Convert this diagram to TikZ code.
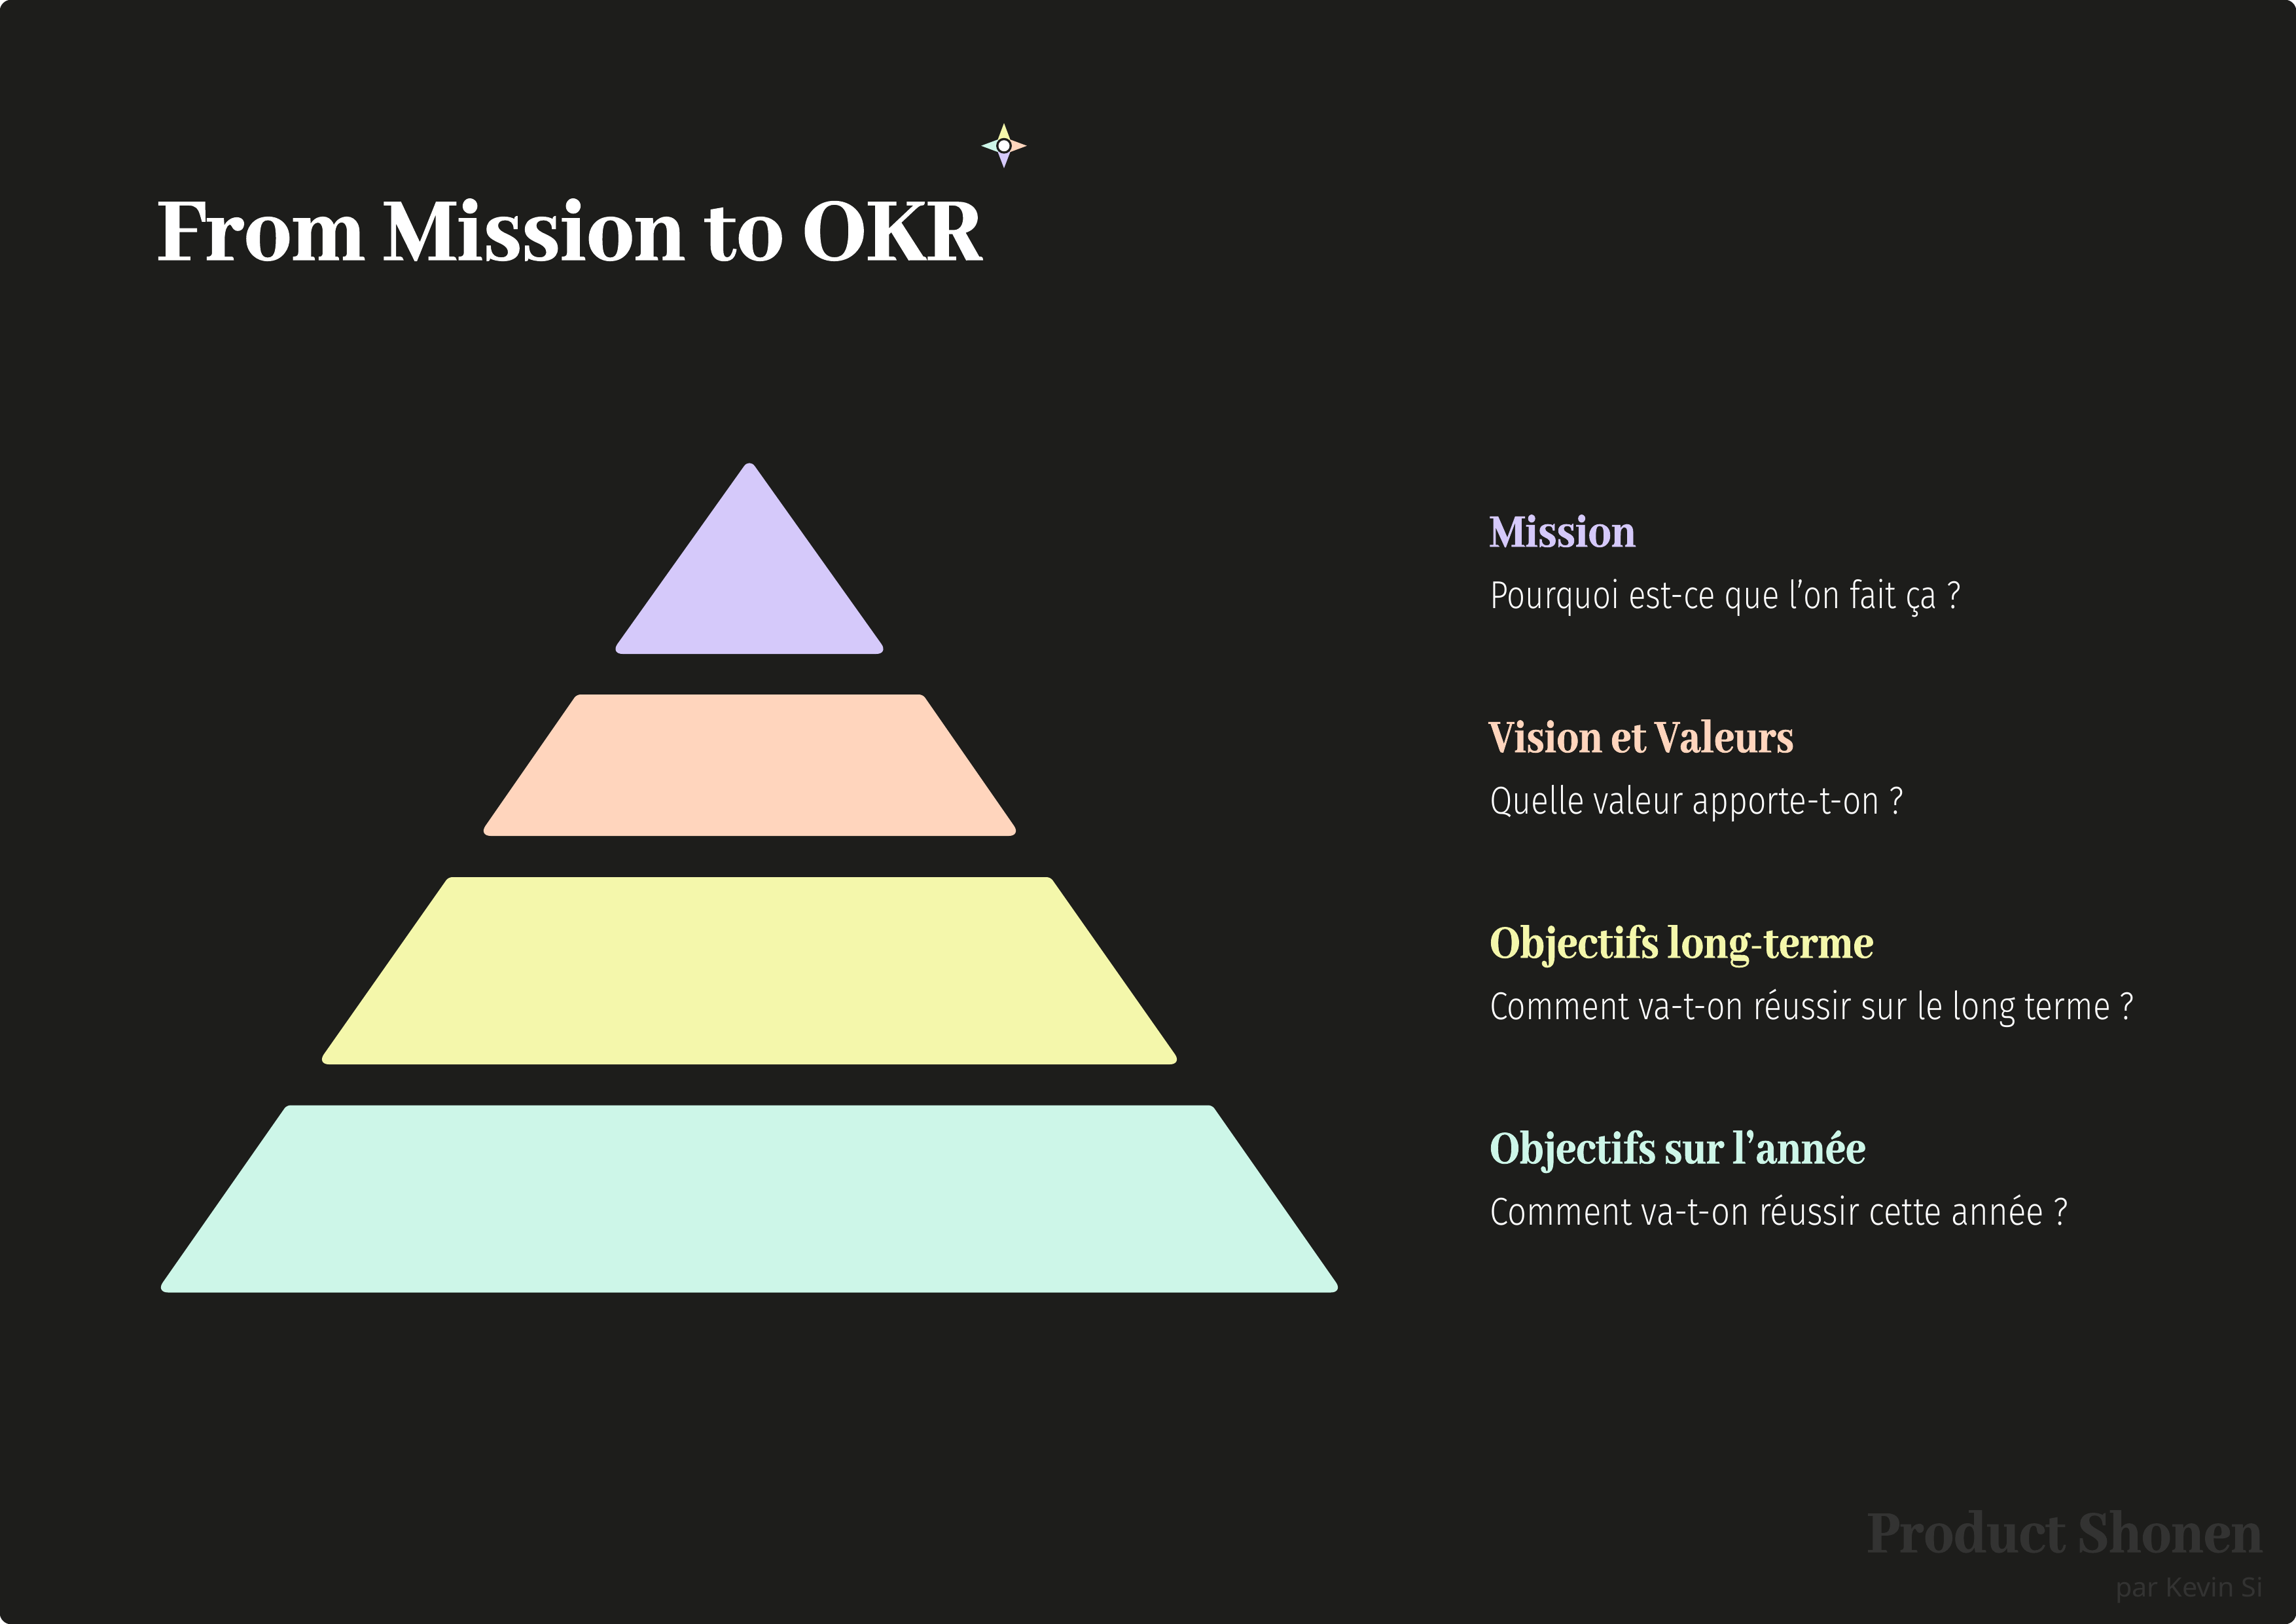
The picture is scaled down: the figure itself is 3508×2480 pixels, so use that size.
\documentclass[tikz,border=0pt]{standalone}
\usepackage{fontspec}
\usepackage{graphicx}
\newfontfamily\disp[FakeBold=1.2]{Abhaya Libre ExtraBold}
\newfontfamily\bodyf{Fira Sans Light}
\newfontfamily\signf{Noto Sans}
\definecolor{bgdark}{HTML}{1D1D1B}
\definecolor{cmission}{HTML}{D5C9FA}
\definecolor{cvision}{HTML}{FFD5BD}
\definecolor{clong}{HTML}{F4F7AB}
\definecolor{cyear}{HTML}{CDF6E8}
\definecolor{cwater}{HTML}{333332}
\newcommand\fitw[2]{\resizebox{\dimexpr 0.24bp*#1\relax}{\height}{#2}}
\tikzset{
  lbl/.style={anchor=base west,inner sep=0pt,outer sep=0pt},
  headt/.style={lbl,font=\disp\fontsize{18.8}{22}\selectfont},
  subt/.style={lbl,text=white,font=\bodyf\fontsize{14.3}{17}\selectfont},
}
\begin{document}
\begin{tikzpicture}[x=0.24bp,y=-0.24bp]
\useasboundingbox (0,0) rectangle (3508,2480);
\fill[white] (0,0) rectangle (3508,2480);
\fill[bgdark,rounded corners=4.3bp] (-0.5,-0.5) rectangle (3508.5,2481.5);
% pyramid
\fill[cmission] [rounded corners=4.5bp] (932.5,999) [rounded corners=3.4bp] -- (1145,700.6) [rounded corners=4.5bp] -- (1357.5,999) -- cycle;
\fill[cvision] [rounded corners=4.5bp] (731,1277) [rounded corners=1.4bp] -- (881,1061) -- (1410,1061) [rounded corners=4.5bp] -- (1560,1277) -- cycle;
\fill[clong] [rounded corners=4.5bp] (484,1626) [rounded corners=1.4bp] -- (685,1340) -- (1605,1340) [rounded corners=4.5bp] -- (1806,1626) -- cycle;
\fill[cyear] [rounded corners=4.5bp] (238,1974.5) [rounded corners=1.4bp] -- (438,1688.5) -- (1852,1688.5) [rounded corners=4.5bp] -- (2052,1974.5) -- cycle;
% star
\fill[clong] (1534,222.7) -- (1524.5,213.2) -- (1534,188) -- (1543.5,213.2) -- cycle;
\fill[cvision] (1534,222.7) -- (1543.5,213.2) -- (1569,222.7) -- (1543.5,232.2) -- cycle;
\fill[cmission] (1534,222.7) -- (1543.5,232.2) -- (1534,257) -- (1524.5,232.2) -- cycle;
\fill[cyear] (1534,222.7) -- (1524.5,232.2) -- (1499,222.7) -- (1524.5,213.2) -- cycle;
\fill[bgdark] (1534,222.7) circle[radius=12];
\fill[white] (1534,222.7) circle[radius=8.5];
% title
\node[lbl,text=white,font=\disp\fontsize{36}{43}\selectfont] (title) at (240,396.7) {\fitw{1261}{From Mission to OKR}};
% rows
\node[headt,text=cmission] (h1) at (2276,835) {\fitw{224}{Mission}};
\node[subt] (s1) at (2276,929) {\fitw{720}{Pourquoi est-ce que l’on fait ça ?}};
\node[headt,text=cvision] (h2) at (2275,1149) {\fitw{466}{Vision et Valeurs}};
\node[subt] (s2) at (2276,1243) {\fitw{633}{Quelle valeur apporte-t-on ?}};
\node[headt,text=clong] (h3) at (2276,1463) {\fitw{587}{Objectifs long-terme}};
\node[subt] (s3) at (2276,1557) {\fitw{985}{Comment va-t-on réussir sur le long terme ?}};
\node[headt,text=cyear] (h4) at (2276,1777) {\fitw{575}{Objectifs sur l’année}};
\node[subt] (s4) at (2276,1871) {\fitw{884}{Comment va-t-on réussir cette année ?}};
% watermark
\node[lbl,text=cwater,font=\disp\fontsize{24}{29}\selectfont] (brand) at (2853,2371) {\fitw{605}{Product Shonen}};
\node[lbl,text=cwater,font=\signf\fontsize{9.8}{12}\selectfont] (author) at (3232,2439) {\fitw{226}{par Kevin Si}};
\end{tikzpicture}
\end{document}
